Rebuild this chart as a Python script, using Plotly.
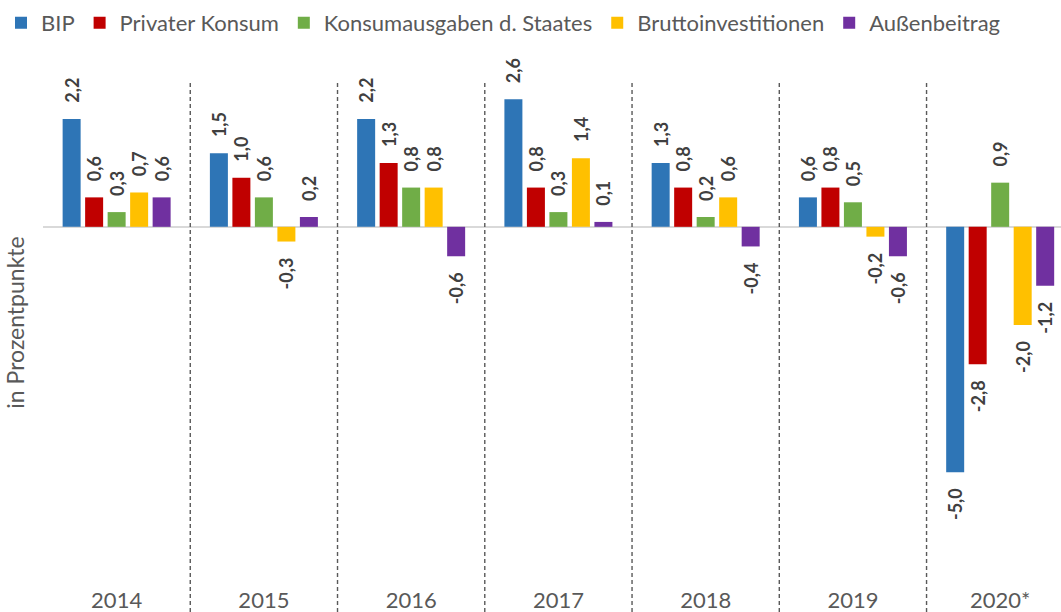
import plotly.graph_objects as go

years = ["2014", "2015", "2016", "2017", "2018", "2019", "2020*"]
series_names = ["BIP", "Privater Konsum", "Konsumausgaben d. Staates", "Bruttoinvestitionen", "Außenbeitrag"]
colors = ["#2E75B6", "#C00000", "#70AD47", "#FFC000", "#7030A0"]

bip = [2.2, 1.5, 2.2, 2.6, 1.3, 0.6, -5.0]
privater_konsum = [0.6, 1.0, 1.3, 0.8, 0.8, 0.8, -2.8]
staatskonsum = [0.3, 0.6, 0.8, 0.3, 0.2, 0.5, 0.9]
bruttoinvestitionen = [0.7, -0.3, 0.8, 1.4, 0.6, -0.2, -2.0]
aussenbeitrag = [0.6, 0.2, -0.6, 0.1, -0.4, -0.6, -1.2]

all_series = [bip, privater_konsum, staatskonsum, bruttoinvestitionen, aussenbeitrag]

NB = "\u00a0"
def lab(v):
    s = f"{v:.1f}".replace(".", ",")
    return NB * 3 + s if v >= 0 else s + NB * 3

FONT = "Lato, 'Open Sans', sans-serif"
W, H = 1061, 612
ML, MR, MT, MB = 43, 0, 60, 27
PH = H - MT - MB

fig = go.Figure()
for name, vals, col in zip(series_names, all_series, colors):
    fig.add_trace(go.Bar(
        x=years, y=vals, name=name, marker_color=col,
        marker_line_width=0,
        text=[lab(v) for v in vals], textposition="outside", textangle=-90,
        constraintext="none", cliponaxis=False,
        textfont=dict(family=FONT, size=18, color="#404040", weight="bold"),
        hoverinfo="skip",
    ))

shapes = []
for i in range(len(years) - 1):
    shapes.append(dict(type="line", xref="x", yref="paper", x0=i + 0.5, x1=i + 0.5,
                       y0=-MB / PH, y1=(H - MB - 82) / PH,
                       line=dict(color="#595959", width=1.4, dash="4px,3px")))

fig.update_layout(
    width=W, height=H,
    margin=dict(l=ML, r=MR, t=MT, b=MB, autoexpand=False),
    paper_bgcolor="white", plot_bgcolor="white",
    barmode="group", bargap=0.236, bargroupgap=0.2,
    font=dict(family=FONT, color="#595959"),
    showlegend=True,
    legend=dict(orientation="h", xref="container", x=1 / W, xanchor="left",
                yref="container", y=0.997, yanchor="top",
                font=dict(size=22, color="#595959"), itemwidth=30, traceorder="normal"),
    xaxis=dict(range=[-0.5, 6.413], showgrid=False, showline=False, ticks="", automargin=False,
               tickfont=dict(size=22, color="#595959")),
    yaxis=dict(range=[-7.3, 3.4], showgrid=False, showticklabels=False, zeroline=True,
               zerolinecolor="#D9D9D9", zerolinewidth=2, automargin=False,
               title=dict(text="in Prozentpunkte", font=dict(size=23, color="#595959"), standoff=10)),
    shapes=shapes,
)
fig.write_html("out.html", config={"displayModeBar": False},
               post_script="document.body.style.margin='0';")
